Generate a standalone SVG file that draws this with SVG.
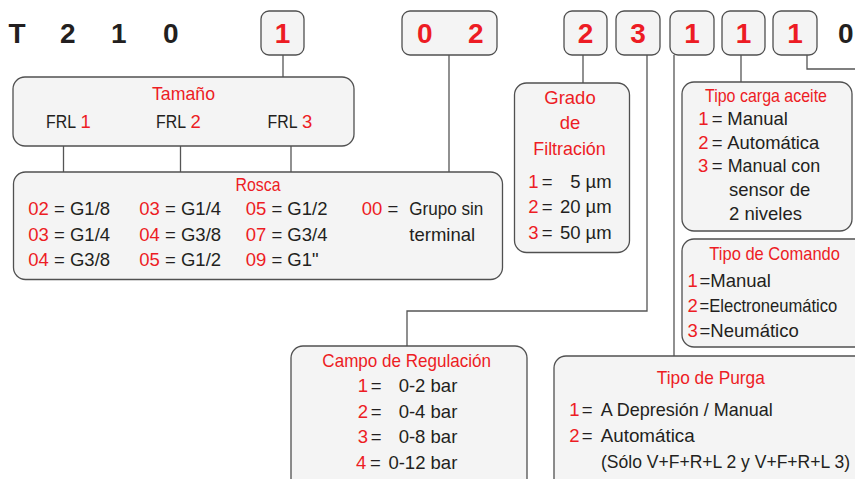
<svg xmlns="http://www.w3.org/2000/svg" width="855" height="479" viewBox="0 0 855 479">
<style>
.bg{fill:#ffffff}
.box{fill:#f4f4f4;stroke:#505050;stroke-width:1.3}
.code{font-family:"Liberation Sans",Arial,sans-serif;font-weight:bold;font-size:28px}
.blk{fill:#231f20}
.red{fill:#ed1c24}
.t{font-family:"Liberation Sans",Arial,sans-serif;font-size:18.5px;fill:#231f20}
.r{fill:#ed1c24}
.c{text-anchor:middle}
.e{text-anchor:end}
.conn path{fill:none;stroke:#555555;stroke-width:1.3}
</style>
<rect class="bg" x="0" y="0" width="855" height="479"/>

<g id="prefix">
<text class="code blk" x="8.5" y="43">T</text>
<text class="code blk" x="60" y="43">2</text>
<text class="code blk" x="111" y="43">1</text>
<text class="code blk" x="163" y="43">0</text>
<text class="code blk" x="838" y="43">0</text>
</g>

<g id="code-size">
<rect class="box" x="261" y="11" width="43" height="44" rx="8"/>
<text class="code red c" x="282.5" y="43">1</text>
</g>
<g id="code-thread">
<rect class="box" x="402" y="11" width="95" height="44" rx="8"/>
<text class="code red" x="417" y="43">0</text>
<text class="code red" x="468" y="43">2</text>
</g>
<g id="code-filter">
<rect class="box" x="564" y="11" width="43" height="44" rx="8"/>
<text class="code red c" x="585.5" y="43">2</text>
</g>
<g id="code-range">
<rect class="box" x="616" y="11" width="44" height="44" rx="8"/>
<text class="code red c" x="638" y="43">3</text>
</g>
<g id="code-drain">
<rect class="box" x="670" y="11" width="44" height="44" rx="8"/>
<text class="code red c" x="692" y="43">1</text>
</g>
<g id="code-oil">
<rect class="box" x="722" y="11" width="43" height="44" rx="8"/>
<text class="code red c" x="743.5" y="43">1</text>
</g>
<g id="code-command">
<rect class="box" x="773" y="11" width="44" height="44" rx="8"/>
<text class="code red c" x="795" y="43">1</text>
</g>

<g class="conn" id="connectors">
<path d="M283 55V77"/>
<path d="M63.5 146V172"/>
<path d="M180.5 146V172"/>
<path d="M291 146V172"/>
<path d="M449 55V172"/>
<path d="M583 55V83"/>
<path d="M647 55V311H407V346"/>
<path d="M674 55V356"/>
<path d="M741 55V82"/>
<path d="M807 55V69H856"/>
</g>

<g id="tamano">
<rect class="box" x="13" y="77" width="341" height="69" rx="12"/>
<text class="t r c" x="183.5" y="100" textLength="63" lengthAdjust="spacingAndGlyphs">Tamaño</text>
<text class="t" x="46" y="128" textLength="30" lengthAdjust="spacingAndGlyphs">FRL</text>
<text class="t r" x="80.5" y="128">1</text>
<text class="t" x="156" y="128" textLength="30" lengthAdjust="spacingAndGlyphs">FRL</text>
<text class="t r" x="190.5" y="128">2</text>
<text class="t" x="267.5" y="128" textLength="30" lengthAdjust="spacingAndGlyphs">FRL</text>
<text class="t r" x="302" y="128">3</text>
</g>

<g id="rosca">
<rect class="box" x="13.5" y="172" width="489" height="107.5" rx="12"/>
<text class="t r c" x="258" y="190.5" textLength="45" lengthAdjust="spacingAndGlyphs">Rosca</text>
<text class="t" x="28.3" y="215"><tspan class="r">02</tspan> = G1/8</text>
<text class="t" x="28.3" y="240.5"><tspan class="r">03</tspan> = G1/4</text>
<text class="t" x="28.3" y="266"><tspan class="r">04</tspan> = G3/8</text>
<text class="t" x="139.3" y="215"><tspan class="r">03</tspan> = G1/4</text>
<text class="t" x="139.3" y="240.5"><tspan class="r">04</tspan> = G3/8</text>
<text class="t" x="139.3" y="266"><tspan class="r">05</tspan> = G1/2</text>
<text class="t" x="245.7" y="215"><tspan class="r">05</tspan> = G1/2</text>
<text class="t" x="245.7" y="240.5"><tspan class="r">07</tspan> = G3/4</text>
<text class="t" x="245.7" y="266"><tspan class="r">09</tspan> = G1"</text>
<text class="t" x="361.7" y="215"><tspan class="r">00</tspan> =</text>
<text class="t" x="409.3" y="215" textLength="74" lengthAdjust="spacingAndGlyphs">Grupo sin</text>
<text class="t" x="409.3" y="240.5">terminal</text>
</g>

<g id="grado">
<rect class="box" x="514.5" y="83" width="115" height="169.5" rx="12"/>
<text class="t r c" x="570" y="103.5">Grado</text>
<text class="t r c" x="570" y="128.5">de</text>
<text class="t r c" x="569.5" y="155" textLength="72.5" lengthAdjust="spacingAndGlyphs">Filtración</text>
<text class="t r" x="528.3" y="187.5">1</text>
<text class="t" x="541.7" y="187.5">=</text>
<text class="t e" x="611.7" y="187.5">5 µm</text>
<text class="t r" x="528.3" y="213.3">2</text>
<text class="t" x="541.7" y="213.3">=</text>
<text class="t e" x="611.7" y="213.3">20 µm</text>
<text class="t r" x="528.3" y="238.5">3</text>
<text class="t" x="541.7" y="238.5">=</text>
<text class="t e" x="611.7" y="238.5">50 µm</text>
</g>

<g id="carga-aceite">
<rect class="box" x="682" y="82" width="170" height="149" rx="12"/>
<text class="t r c" x="766" y="101.7" font-size="19" textLength="122" lengthAdjust="spacingAndGlyphs">Tipo carga aceite</text>
<text class="t r" x="698.3" y="125">1</text>
<text class="t" x="711.7" y="125">=</text>
<text class="t" x="727.3" y="125">Manual</text>
<text class="t r" x="698.3" y="148.5">2</text>
<text class="t" x="711.7" y="148.5">=</text>
<text class="t" x="727.3" y="148.5" textLength="92" lengthAdjust="spacingAndGlyphs">Automática</text>
<text class="t r" x="698" y="172.3">3</text>
<text class="t" x="711.7" y="172.3">=</text>
<text class="t" x="727.7" y="172.3" textLength="92.5" lengthAdjust="spacingAndGlyphs">Manual con</text>
<text class="t" x="729" y="196">sensor de</text>
<text class="t" x="729" y="220">2 niveles</text>
</g>

<g id="comando">
<rect class="box" x="682" y="239" width="190" height="108" rx="12"/>
<text class="t r" x="709.3" y="260" font-size="19" textLength="130.7" lengthAdjust="spacingAndGlyphs">Tipo de Comando</text>
<text class="t r" x="687.5" y="286.7" font-size="19.5">1</text>
<text class="t" x="699.5" y="286.7" font-size="19.5">=Manual</text>
<text class="t r" x="687.5" y="311.7" font-size="19.5">2</text>
<text class="t" x="699.5" y="311.7" font-size="18" textLength="137.8" lengthAdjust="spacingAndGlyphs">=Electroneumático</text>
<text class="t r" x="687.5" y="336.7" font-size="19.5">3</text>
<text class="t" x="699.5" y="336.7" font-size="19.5">=Neumático</text>
</g>

<g id="regulacion">
<rect class="box" x="291" y="346" width="236" height="150" rx="12"/>
<text class="t r c" x="406.7" y="366.7" textLength="168.7" lengthAdjust="spacingAndGlyphs">Campo de Regulación</text>
<text class="t r" x="357.7" y="391.7">1</text>
<text class="t" x="370.7" y="391.7">=</text>
<text class="t e" x="457.3" y="391.7">0-2 bar</text>
<text class="t r" x="357.7" y="417.7">2</text>
<text class="t" x="370.7" y="417.7">=</text>
<text class="t e" x="457.3" y="417.7">0-4 bar</text>
<text class="t r" x="357.7" y="443.3">3</text>
<text class="t" x="370.7" y="443.3">=</text>
<text class="t e" x="457.3" y="443.3">0-8 bar</text>
<text class="t r" x="356" y="469.3">4</text>
<text class="t" x="370" y="469.3">=</text>
<text class="t e" x="457.3" y="469.3">0-12 bar</text>
</g>

<g id="purga">
<rect class="box" x="554" y="356" width="320" height="140" rx="12"/>
<text class="t r c" x="710.8" y="384" textLength="108" lengthAdjust="spacingAndGlyphs">Tipo de Purga</text>
<text class="t r" x="569.3" y="416">1</text>
<text class="t" x="581.7" y="416">=</text>
<text class="t" x="600.7" y="416" textLength="172" lengthAdjust="spacingAndGlyphs">A Depresión / Manual</text>
<text class="t r" x="569.3" y="441.7">2</text>
<text class="t" x="581.7" y="441.7">=</text>
<text class="t" x="600.7" y="441.7" textLength="94" lengthAdjust="spacingAndGlyphs">Automática</text>
<text class="t" x="601" y="468.3" textLength="249" lengthAdjust="spacingAndGlyphs">(Sólo V+F+R+L 2 y V+F+R+L 3)</text>
</g>
</svg>
